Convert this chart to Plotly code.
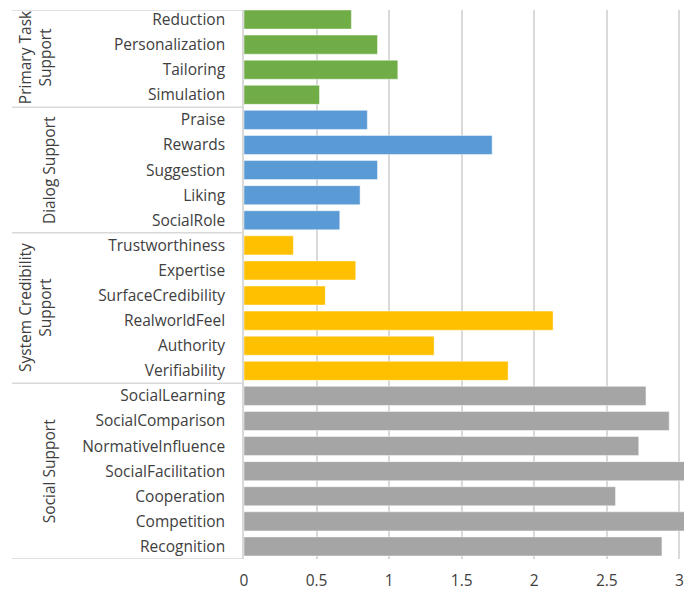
import plotly.graph_objects as go

# ---- data ----
groups = ["Primary Task<br>Support", "Dialog Support", "System Credibility<br>Support", "Social Support"]
group_colors = ["#70AD47", "#5B9BD5", "#FFC000", "#A5A5A5"]

primary_labels = ["Reduction", "Personalization", "Tailoring", "Simulation"]
primary_values = [0.74, 0.92, 1.06, 0.52]

dialog_labels = ["Praise", "Rewards", "Suggestion", "Liking", "SocialRole"]
dialog_values = [0.85, 1.71, 0.92, 0.80, 0.66]

credibility_labels = ["Trustworthiness", "Expertise", "SurfaceCredibility", "RealworldFeel", "Authority", "Verifiability"]
credibility_values = [0.34, 0.77, 0.56, 2.13, 1.31, 1.82]

social_labels = ["SocialLearning", "SocialComparison", "NormativeInfluence", "SocialFacilitation", "Cooperation", "Competition", "Recognition"]
social_values = [2.77, 2.93, 2.72, 3.10, 2.56, 3.08, 2.88]

x_ticks = [0, 0.5, 1, 1.5, 2, 2.5, 3]
x_tick_text = ["0", "0.5", "1", "1.5", "2", "2.5", "3"]

all_labels = [primary_labels, dialog_labels, credibility_labels, social_labels]
all_values = [primary_values, dialog_values, credibility_values, social_values]
category_order = [l for grp in all_labels for l in grp]
n_rows = len(category_order)

FONT = "Open Sans"
FS = 15.5
TXT = "#404040"
LINE = "#D9D9D9"

fig = go.Figure()
for labels, values, color in zip(all_labels, all_values, group_colors):
    fig.add_trace(go.Bar(
        y=labels, x=values, orientation="h",
        marker=dict(color=color, line=dict(color="rgba(255,255,255,0.45)", width=1)),
        width=0.76, showlegend=False, cliponaxis=True,
    ))

y_top = -0.38  # top of visible category range

# separators and group labels
shapes = []
annotations = []
start = 0
boundaries = [y_top]
for gi, labels in enumerate(all_labels):
    end = start + len(labels)
    boundaries.append(end - 0.5)
    center = (start + end - 1) / 2
    two_line = "<br>" in groups[gi]
    annotations.append(dict(
        text=groups[gi], x=0, y=center, xref="paper", yref="y",
        xshift=-209 if two_line else -195, textangle=-90, showarrow=False,
        font=dict(family=FONT, size=FS, color=TXT), xanchor="center", yanchor="middle",
    ))
    start = end

for b in boundaries:
    shapes.append(dict(
        type="line", xref="paper", xsizemode="pixel", xanchor=0, x0=-232, x1=0,
        yref="y", y0=b, y1=b, line=dict(color=LINE, width=1.5), layer="below",
    ))

fig.update_layout(
    width=676, height=584,
    margin=dict(l=236, r=0, t=0, b=33),
    paper_bgcolor="white", plot_bgcolor="white",
    shapes=shapes, annotations=annotations,
    font=dict(family=FONT, size=FS, color=TXT),
    xaxis=dict(
        range=[0, 3.032], tickvals=x_ticks, ticktext=x_tick_text,
        showgrid=True, gridcolor=LINE, gridwidth=1.5, zeroline=False,
        showline=False, ticks="", ticklabelstandoff=10, ticklabeloverflow="allow",
        tickfont=dict(family=FONT, size=FS, color=TXT),
    ),
    yaxis=dict(
        categoryorder="array", categoryarray=category_order,
        range=[n_rows - 0.5, y_top],
        showgrid=False, zeroline=False, showline=True, linecolor=LINE, linewidth=1.5,
        ticks="", ticklabelstandoff=14,
        tickfont=dict(family=FONT, size=FS, color=TXT),
    ),
)

fig.write_html("out.html")
